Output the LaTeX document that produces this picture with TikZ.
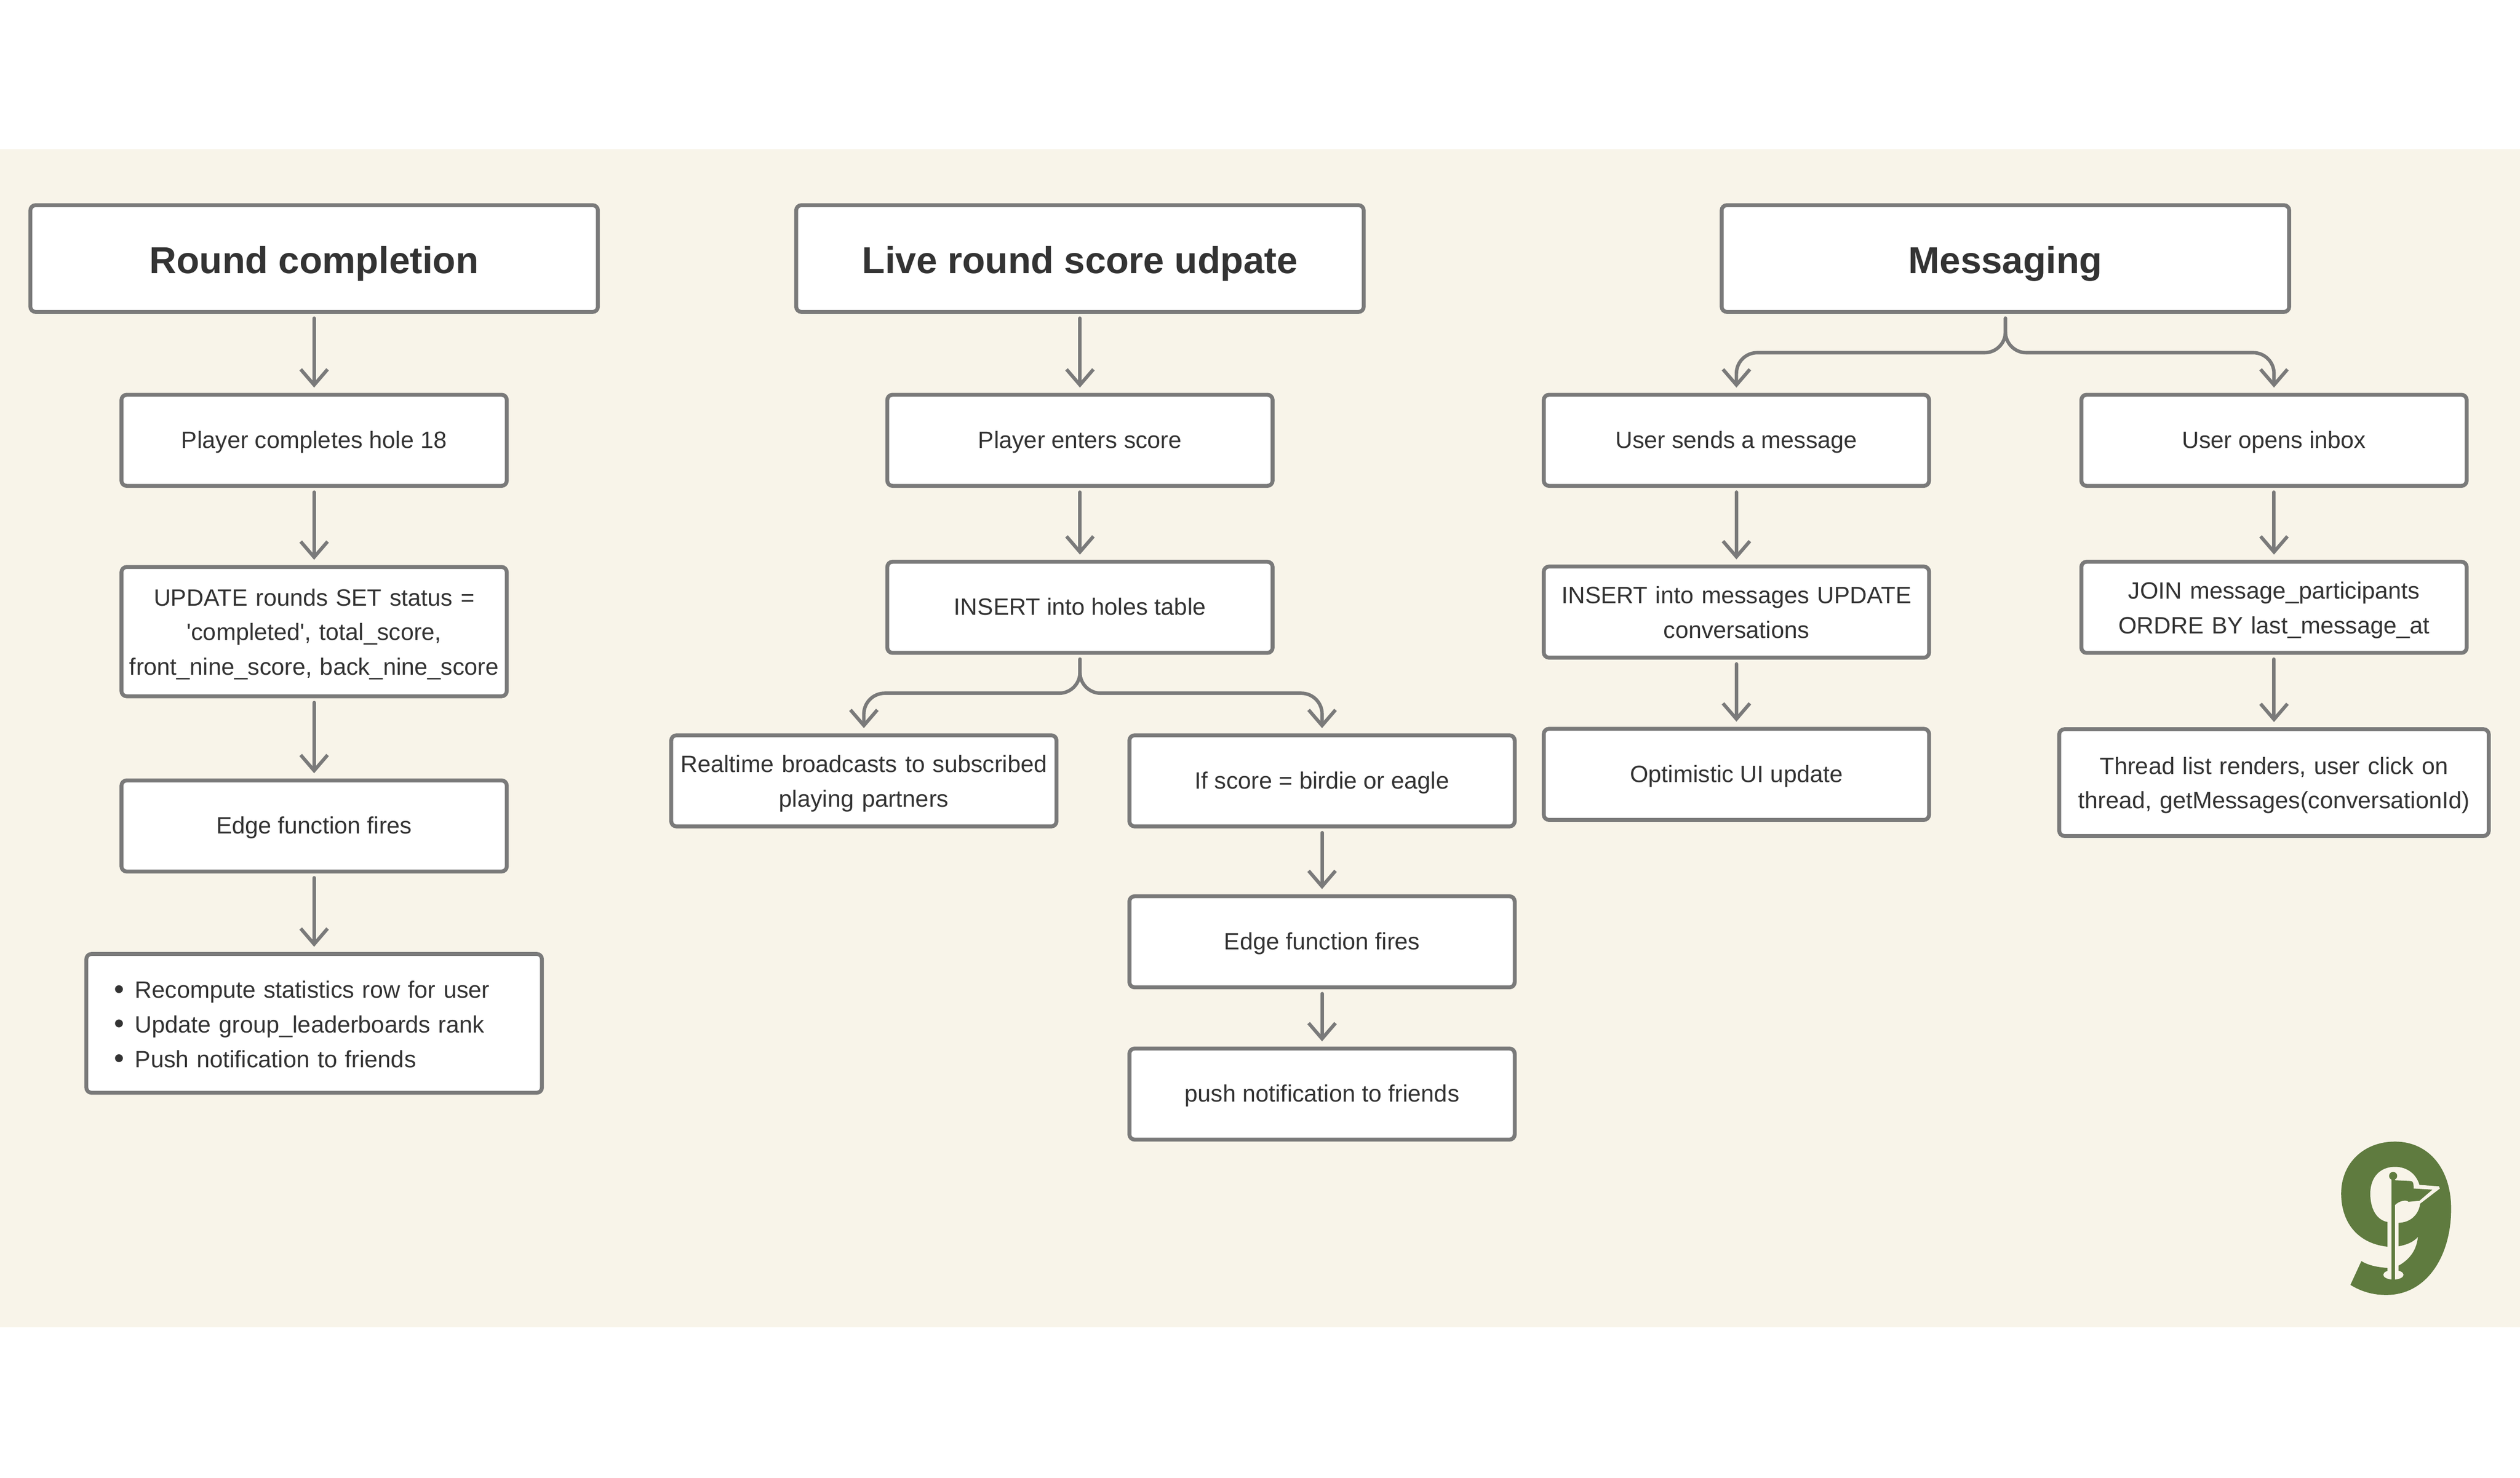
\documentclass[tikz,border=0pt]{standalone}
\usepackage{fontspec}
\setmainfont{Liberation Sans}
\usetikzlibrary{arrows.meta, positioning}

\definecolor{bandcol}{HTML}{F8F4E9}
\definecolor{linecol}{HTML}{7A7A7A}
\definecolor{textcol}{HTML}{333333}
\definecolor{logocol}{HTML}{5F7B3F}

\newcommand{\listdot}{\makebox[0.48cm][l]{\raisebox{-0.5pt}{\fontsize{19pt}{19pt}\selectfont\textbullet}}}

\tikzset{
    basebox/.style={draw=linecol, fill=white, line width=0.09cm, rounded corners=0.12cm, text=textcol, align=center, inner sep=0pt},
    titlebox/.style={basebox, minimum width=13.08cm, minimum height=2.46cm, font=\fontsize{24.6pt}{30pt}\selectfont\bfseries,
        execute at begin node={\rule{0pt}{27pt}}, execute at end node={\rule[-7.7pt]{0pt}{7.7pt}}},
    stepbox/.style={basebox, minimum width=8.88cm, minimum height=2.10cm, font=\fontsize{15.5pt}{22.7pt}\selectfont,
        execute at begin node={\rule{0pt}{15pt}}, execute at end node={\rule[-4.8pt]{0pt}{4.8pt}}},
    manyline/.style={text width=8.7cm, execute at begin node={\rule{0pt}{16.4pt}}},
    flow/.style={draw=linecol, line width=0.08cm, line cap=round, -{Straight Barb[length=0.36cm, width=0.62cm, line width=0.08cm]}, shorten <=0.1cm, shorten >=0.12cm},
    fork/.style={flow, rounded corners=0.48cm},
}

\begin{document}
\begin{tikzpicture}
    \useasboundingbox (0,0) rectangle (58.08,34.06);
    \fill[bandcol] (0,3.46) rectangle (58.08,30.62);

    % round completion
    \node[titlebox] at (7.24,28.10) (round) {Round completion};
    \node[stepbox] at (7.24,23.91) (hole) {Player completes hole 18};
    \node[stepbox, manyline, minimum height=2.98cm] at (7.24,19.50) (rounds) {UPDATE rounds SET status =\\\textquotesingle completed\textquotesingle, total\_score,\\front\_nine\_score, back\_nine\_score};
    \node[stepbox] at (7.24,15.02) (edgea) {Edge function fires};
    \node[stepbox, minimum width=10.50cm, minimum height=3.20cm, text width=9.22cm, align=left, execute at begin node={\rule{0pt}{17.1pt}}] at (7.24,10.47) (stats) {%
        \listdot Recompute statistics row for user\\
        \listdot Update group\_leaderboards rank\\
        \listdot Push notification to friends};

    % live score
    \node[titlebox] at (24.89,28.10) (live) {Live round score udpate};
    \node[stepbox] at (24.89,23.91) (enters) {Player enters score};
    \node[stepbox] at (24.89,20.06) (holes) {INSERT into holes table};
    \node[stepbox, manyline] at (19.91,16.06) (realtime) {Realtime broadcasts to subscribed\\playing partners};
    \node[stepbox] at (30.47,16.06) (birdie) {If score = birdie or eagle};
    \node[stepbox] at (30.47,12.35) (edgeb) {Edge function fires};
    \node[stepbox] at (30.47,8.84) (push) {push notification to friends};

    % messaging
    \node[titlebox] at (46.22,28.10) (msg) {Messaging};
    \node[stepbox] at (40.02,23.91) (sends) {User sends a message};
    \node[stepbox, manyline] at (40.02,19.95) (messages) {INSERT into messages UPDATE\\conversations};
    \node[stepbox] at (40.02,16.21) (optim) {Optimistic UI update};
    \node[stepbox] at (52.41,23.91) (inbox) {User opens inbox};
    \node[stepbox, manyline] at (52.41,20.06) (join) {JOIN message\_participants\\ORDRE BY last\_message\_at};
    \node[stepbox, manyline, text width=9.6cm, minimum width=9.90cm, minimum height=2.46cm] at (52.41,16.02) (thread) {Thread list renders, user click on\\thread, getMessages(conversationId)};

    \coordinate (msgfork) at (46.22,25.93);
    \coordinate (liveforkc) at (24.89,18.08);

    \path[flow]
        (round) edge (hole)
        (hole) edge (rounds)
        (rounds) edge (edgea)
        (edgea) edge (stats)
        (live) edge (enters)
        (enters) edge (holes)
        (birdie) edge (edgeb)
        (edgeb) edge (push)
        (sends) edge (messages)
        (messages) edge (optim)
        (inbox) edge (join)
        (join) edge (thread);
    \draw[fork] (msg.south) |- (msgfork) -| (sends.north);
    \draw[fork] (msg.south) |- (msgfork) -| (inbox.north);
    \draw[fork] (holes.south) |- (liveforkc) -| (realtime.north);
    \draw[fork] (holes.south) |- (liveforkc) -| (birdie.north);

    % logo, in 1/3 pixels
    \begin{scope}[shift={(53,8.26)}, x=0.003333cm, y=-0.003333cm]
        \fill[logocol] (660,155) .. controls (900,155) and (1050,350) .. (1050,620)
            .. controls (1050,950) and (880,1218) .. (600,1218)
            .. controls (500,1218) and (420,1190) .. (352,1148)
            -- (428,983) .. controls (480,1015) and (550,1030) .. (650,1032)
            .. controls (760,985) and (810,910) .. (820,815)
            .. controls (790,850) and (740,875) .. (650,886)
            .. controls (420,880) and (288,730) .. (288,515)
            .. controls (288,300) and (450,155) .. (660,155) -- cycle;
        \fill[bandcol] (660,330) .. controls (750,330) and (810,385) .. (830,455)
            -- (965,465) -- (972,480) -- (835,585)
            .. controls (825,660) and (770,715) .. (685,718)
            -- (610,712) .. controls (540,700) and (490,630) .. (490,515)
            .. controls (490,400) and (560,330) .. (660,330) -- cycle;
        \fill[bandcol] (610,700) rectangle (685,1060);
        \fill[bandcol] (650,1078) ellipse [x radius=70, y radius=33];
        \fill[logocol] (637,410) rectangle (660,1115);
        \fill[logocol] (648,393) circle [radius=28];
        \fill[logocol] (660,423) -- (770,428) .. controls (785,430) and (790,440) .. (790,480)
            -- (920,488) -- (830,565) -- (755,572) .. controls (740,555) and (690,565) .. (660,595) -- cycle;
    \end{scope}
\end{tikzpicture}
\end{document}
